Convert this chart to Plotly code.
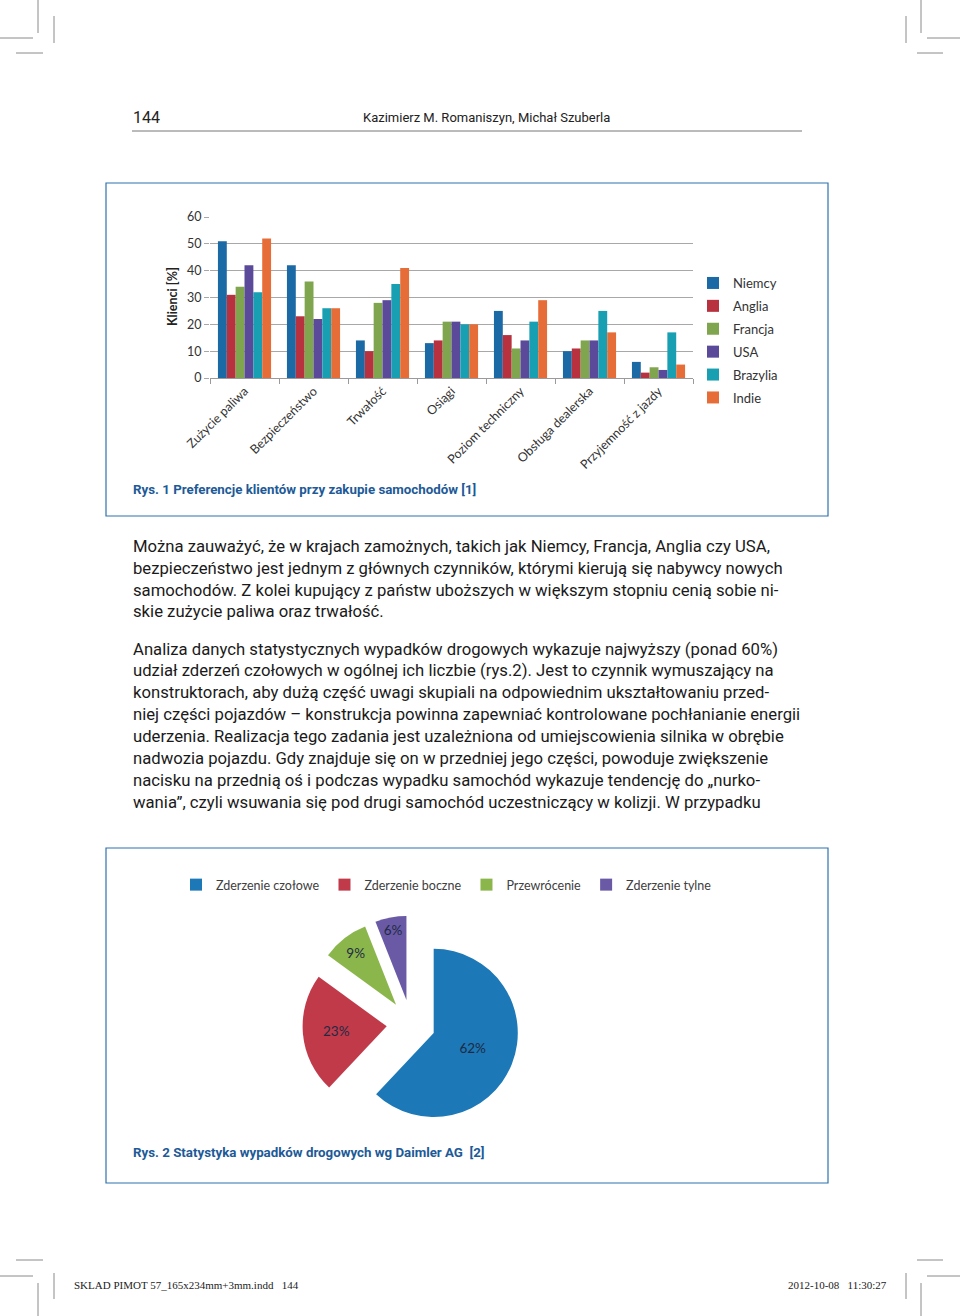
import plotly.graph_objects as go

W, H = 960, 1316
def px(x): return x / W
def py(y): return 1 - y / H

# ---------------- data: Rys. 1 ----------------
categories = ["Zużycie paliwa", "Bezpieczeństwo", "Trwałość", "Osiągi",
              "Poziom techniczny", "Obsługa dealerska", "Przyjemność z jazdy"]
niemcy   = [51, 42, 14, 13, 25, 10, 6]
anglia   = [31, 23, 10, 14, 16, 11, 2]
francja  = [34, 36, 28, 21, 11, 14, 4]
usa      = [42, 22, 29, 21, 14, 14, 3]
brazylia = [32, 26, 35, 20, 21, 25, 17]
indie    = [52, 26, 41, 20, 29, 17, 5]
series_names = ["Niemcy", "Anglia", "Francja", "USA", "Brazylia", "Indie"]
series_vals = [niemcy, anglia, francja, usa, brazylia, indie]
series_colors = ["#1b6aa5", "#b7323e", "#7fa64e", "#5b4a9a", "#199fb2", "#e76d38"]
y_ticks = [0, 10, 20, 30, 40, 50, 60]

# ---------------- data: Rys. 2 ----------------
pie_labels = ["Zderzenie czołowe", "Zderzenie boczne", "Przewrócenie", "Zderzenie tylne"]
pie_values = [62, 23, 9, 6]
pie_colors = ["#1c78b6", "#c03a4a", "#8bb64c", "#6a5aa6"]

# ---------------- page text ----------------
para1 = [
    "Można zauważyć, że w krajach zamożnych, takich jak Niemcy, Francja, Anglia czy USA,",
    "bezpieczeństwo jest jednym z głównych czynników, którymi kierują się nabywcy nowych",
    "samochodów. Z kolei kupujący z państw uboższych w większym stopniu cenią sobie ni-",
    "skie zużycie paliwa oraz trwałość.",
]
para2 = [
    "Analiza danych statystycznych wypadków drogowych wykazuje najwyższy (ponad 60%)",
    "udział zderzeń czołowych w ogólnej ich liczbie (rys.2). Jest to czynnik wymuszający na",
    "konstruktorach, aby dużą część uwagi skupiali na odpowiednim ukształtowaniu przed-",
    "niej części pojazdów – konstrukcja powinna zapewniać kontrolowane pochłanianie energii",
    "uderzenia. Realizacja tego zadania jest uzależniona od umiejscowienia silnika w obrębie",
    "nadwozia pojazdu. Gdy znajduje się on w przedniej jego części, powoduje zwiększenie",
    "nacisku na przednią oś i podczas wypadku samochód wykazuje tendencję do „nurko-",
    "wania”, czyli wsuwania się pod drugi samochód uczestniczący w kolizji. W przypadku",
]

fig = go.Figure()

for name, vals, col in zip(series_names, series_vals, series_colors):
    fig.add_trace(go.Bar(x=categories, y=vals, name=name, marker_color=col,
                         marker_line_width=0, legendgroup=name, legend="legend"))

fig.add_trace(go.Pie(labels=pie_labels, values=pie_values, sort=False,
                     direction="clockwise", rotation=0, pull=0.29,
                     marker=dict(colors=pie_colors, line=dict(width=0)),
                     textinfo="percent", textposition="inside",
                     insidetextorientation="horizontal",
                     insidetextfont=dict(family="Lato", size=13.5, color="#1e2a44"),
                     domain=dict(x=[px(302.5), px(519.5)], y=[py(1132.5), py(915.5)]),
                     legend="legend2", showlegend=True, hoverinfo="label+percent"))

BODY_FONT = "Roboto"
ann = []
# header
ann.append(dict(x=px(131), y=py(117), text="144", xanchor="left", yanchor="middle",
                font=dict(family=BODY_FONT, size=16, color="#222")))
ann.append(dict(x=px(486), y=py(117), text="Kazimierz M. Romaniszyn, Michał Szuberla",
                xanchor="center", yanchor="middle",
                font=dict(family=BODY_FONT, size=13, color="#222")))
# captions
ann.append(dict(x=px(131), y=py(489), text="<b>Rys. 1 Preferencje klientów przy zakupie samochodów [1]</b>",
                xanchor="left", yanchor="middle", font=dict(family=BODY_FONT, size=13.3, color="#1d5a97")))
ann.append(dict(x=px(131), y=py(1152), text="<b>Rys. 2 Statystyka wypadków drogowych wg Daimler AG  [2]</b>",
                xanchor="left", yanchor="middle", font=dict(family=BODY_FONT, size=13.3, color="#1d5a97")))
# body
for i, line_txt in enumerate(para1):
    ann.append(dict(x=px(131), y=py(546 + 22 * i), text=line_txt, xanchor="left", yanchor="middle",
                    font=dict(family=BODY_FONT, size=16.7, color="#1a1a1a")))
for i, line_txt in enumerate(para2):
    ann.append(dict(x=px(131), y=py(649 + 21.9 * i), text=line_txt, xanchor="left", yanchor="middle",
                    font=dict(family=BODY_FONT, size=16.7, color="#1a1a1a")))
# y-axis title
ann.append(dict(x=px(172), y=py(297), text="<b>Klienci [%]</b>", textangle=-90,
                xanchor="center", yanchor="middle", font=dict(family="Lato", size=12.5, color="#222")))
# footer
ann.append(dict(x=px(72), y=py(1285), text="SKLAD PIMOT 57_165x234mm+3mm.indd   144",
                xanchor="left", yanchor="middle", font=dict(family="Liberation Serif", size=11, color="#222")))
ann.append(dict(x=px(889), y=py(1285), text="2012-10-08   11:30:27",
                xanchor="right", yanchor="middle", font=dict(family="Liberation Serif", size=11, color="#222")))
for a in ann:
    a.update(xref="paper", yref="paper", showarrow=False)

shapes = []
def line(x0, y0, x1, y1, color="#8a8a8a", w=1):
    shapes.append(dict(type="line", xref="paper", yref="paper",
                       x0=px(x0), y0=py(y0), x1=px(x1), y1=py(y1),
                       line=dict(color=color, width=w)))
def rect(x0, y0, x1, y1, color):
    shapes.append(dict(type="rect", xref="paper", yref="paper",
                       x0=px(x0), y0=py(y0), x1=px(x1), y1=py(y1),
                       line=dict(color=color, width=1.2), fillcolor="rgba(0,0,0,0)"))
# header rule
line(132, 131, 802, 131, "#777", 1)
# frames
rect(106, 183, 828, 516, "#2f72b0")
rect(106, 848, 828, 1183, "#2f72b0")
# crop marks
line(38, 0, 38, 33); line(0, 38, 33, 38); line(54, 16, 54, 43); line(16, 53, 43, 53)
line(921, 0, 921, 33); line(927, 38, 960, 38); line(906, 16, 906, 43); line(917, 53, 943, 53)
line(16, 1260, 43, 1260); line(0, 1276, 33, 1276); line(38, 1283, 38, 1316); line(54, 1273, 54, 1299)
line(917, 1260, 943, 1260); line(927, 1276, 960, 1276); line(906, 1273, 906, 1299); line(921, 1283, 921, 1316)

fig.update_layout(
    width=W, height=H, autosize=False,
    margin=dict(l=0, r=0, t=0, b=0),
    paper_bgcolor="white", plot_bgcolor="white",
    barmode="group", bargap=0.23, bargroupgap=0,
    annotations=ann, shapes=shapes,
    xaxis=dict(domain=[px(210), px(693)], anchor="y", type="category",
               showgrid=False, showline=True, linecolor="#9a9a9a", linewidth=1,
               ticks="outside", tickson="boundaries", ticklen=5, tickcolor="#9a9a9a",
               tickangle=-45, tickfont=dict(family="Lato", size=12.5, color="#333"),
               automargin=False),
    yaxis=dict(domain=[py(378), py(217)], anchor="x", range=[0, 60],
               tickvals=y_ticks, showgrid=True, gridcolor="#a8a8a8", gridwidth=1,
               zeroline=False, ticks="outside", ticklen=5, tickcolor="#a8a8a8",
               tickfont=dict(family="Lato", size=12.5, color="#333"), automargin=False),
    legend=dict(x=px(693), y=py(268), xanchor="left", yanchor="top",
                orientation="v", tracegroupgap=3, bgcolor="rgba(0,0,0,0)",
                font=dict(family="Lato", size=13, color="#333"), itemclick=False),
    legend2=dict(x=px(176), y=py(870), xanchor="left", yanchor="top",
                 orientation="h", bgcolor="rgba(0,0,0,0)",
                 font=dict(family="Lato", size=12.5, color="#404040")),
    showlegend=True,
)

fig.write_html("out.html")
